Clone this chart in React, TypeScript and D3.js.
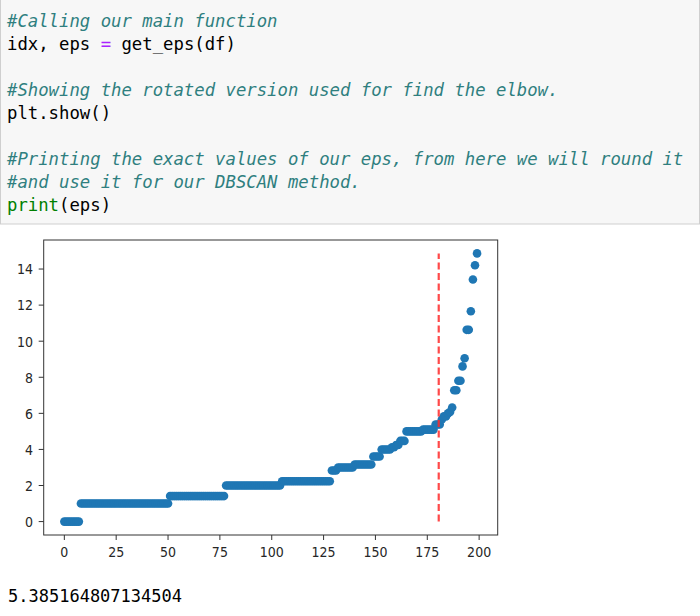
import React from "react";
import * as d3 from "d3";

// k-distance plateaus (value, number of consecutive points)
const plateauValues = [0, 1, 1.414, 2, 2.236, 2.828, 3, 3.162, 3.606, 4, 4.123, 4.243, 4.472, 5, 5.099, 5.385];
const plateauCounts = [8, 43, 27, 27, 24, 3, 8, 9, 4, 5, 2, 2, 3, 8, 6, 3];
// the steep tail after the elbow, one value per point
const tailValues = [5.657, 5.831, 5.831, 6.0, 6.083, 6.325, 7.28, 7.28, 7.81, 7.81, 8.602, 9.055, 10.63, 10.63, 11.662, 13.416, 14.213, 14.866];

const elbowIdx = 181;
const epsText = "5.385164807134504";

const xTicks = [0, 25, 50, 75, 100, 125, 150, 175, 200];
const yTicks = [0, 2, 4, 6, 8, 10, 12, 14];

const codeLines: { text: string; color: string; italic?: boolean }[][] = [
  [{ text: "#Calling our main function", color: "#2f7f7f", italic: true }],
  [
    { text: "idx, eps ", color: "#000" },
    { text: "=", color: "#aa22ff" },
    { text: " get_eps(df)", color: "#000" },
  ],
  [],
  [{ text: "#Showing the rotated version used for find the elbow.", color: "#2f7f7f", italic: true }],
  [{ text: "plt.show()", color: "#000" }],
  [],
  [{ text: "#Printing the exact values of our eps, from here we will round it", color: "#2f7f7f", italic: true }],
  [{ text: "#and use it for our DBSCAN method.", color: "#2f7f7f", italic: true }],
  [
    { text: "print", color: "#008000" },
    { text: "(eps)", color: "#000" },
  ],
];

const eps: number[] = [];
plateauValues.forEach((v, i) => {
  for (let k = 0; k < plateauCounts[i]; k++) eps.push(v);
});
tailValues.forEach((v) => eps.push(v));
const points = eps.map((v, i) => ({ i, v }));

export default function App() {
  const left = 43.7, right = 497.7, top = 240, bottom = 535;
  const n = points.length;
  const xMin = 0, xMax = n - 1;
  const xPad = (xMax - xMin) * 0.05;
  const yMaxV = d3.max(eps) as number;
  const yMinV = d3.min(eps) as number;
  const yPad = (yMaxV - yMinV) * 0.05;
  const x = d3.scaleLinear().domain([xMin - xPad, xMax + xPad]).range([left, right]);
  const y = d3.scaleLinear().domain([yMinV - yPad, yMaxV + yPad]).range([bottom, top]);

  const mono = "'DejaVu Sans Mono', 'Liberation Mono', monospace";
  const sans = "'DejaVu Sans', sans-serif";

  return (
    <svg
      width={700}
      height={616}
      style={{ position: "absolute", left: 0, top: 0, background: "#fff" }}
    >
      {/* code cell */}
      <rect x={0.5} y={-1} width={699} height={225} fill="#f7f7f7" stroke="#cfcfcf" />
      {codeLines.map((line, li) => (
        <text
          key={li}
          x={7}
          y={27 + li * 23}
          fontFamily={mono}
          fontSize={17.3}
          style={{ whiteSpace: "pre" }}
        >
          {line.map((s, si) => (
            <tspan key={si} fill={s.color} fontStyle={s.italic ? "italic" : "normal"}>
              {s.text}
            </tspan>
          ))}
        </text>
      ))}

      {/* chart */}
      <rect x={left} y={top} width={right - left} height={bottom - top} fill="#fff" />
      <g>
        {points.map((p) => (
          <circle key={p.i} cx={x(p.i)} cy={y(p.v)} r={4.3} fill="#1f77b4" />
        ))}
      </g>
      <line
        x1={x(elbowIdx) - 1}
        x2={x(elbowIdx) - 1}
        y1={y(0)}
        y2={y(yMaxV)}
        stroke="#ff2a2a"
        strokeWidth={2.2}
        strokeDasharray="7,3.5"
        opacity={0.85}
      />
      <rect x={left} y={top} width={right - left} height={bottom - top} fill="none" stroke="#333" strokeWidth={1} />

      {xTicks.map((t) => (
        <g key={"x" + t}>
          <line x1={x(t)} x2={x(t)} y1={bottom} y2={bottom + 5} stroke="#333" />
          <text
            transform={`translate(${x(t)},557) scale(1,1.18)`}
            textAnchor="middle"
            fontFamily={sans}
            fontSize={12.6}
            fill="#262626"
          >
            {t}
          </text>
        </g>
      ))}
      {yTicks.map((t) => (
        <g key={"y" + t}>
          <line x1={left - 5} x2={left} y1={y(t)} y2={y(t)} stroke="#333" />
          <text
            transform={`translate(33,${y(t)}) scale(1,1.18)`}
            dy="0.36em"
            textAnchor="end"
            fontFamily={sans}
            fontSize={12.6}
            fill="#262626"
          >
            {t}
          </text>
        </g>
      ))}

      {/* printed output */}
      <text x={8} y={601.5} fontFamily={mono} fontSize={17} fill="#000">
        {epsText}
      </text>
    </svg>
  );
}
